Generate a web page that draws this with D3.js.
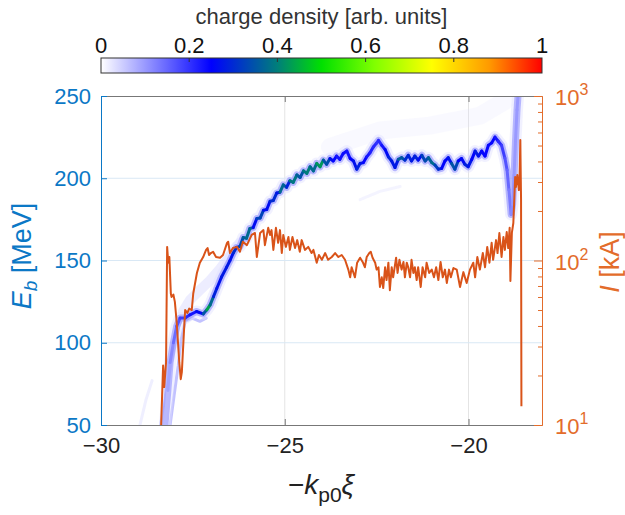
<!DOCTYPE html>
<html>
<head>
<meta charset="utf-8">
<script src="https://cdn.jsdelivr.net/npm/d3@7"></script>
<style>
  body { margin: 0; background: #fff; }
  svg { font-family: "Liberation Sans", Arial, Helvetica, sans-serif; }
</style>
</head>
<body>
<svg id="chart" width="625" height="515"></svg>
<script>
// ---- ticks ----
var xTicks = [-30, -25, -20];
var eTicks = [50, 100, 150, 200, 250];
var iTicks = [10, 100, 1000];
var iMinor = [20, 30, 40, 50, 60, 70, 80, 90, 200, 300, 400, 500, 600, 700, 800, 900];
var cbTicks = [0, 0.2, 0.4, 0.6, 0.8, 1];

// ---- current profile I [kA] vs -kp0*xi ----
var currXi = [-28.37, -28.31, -28.28, -28.23, -28.20, -28.17, -28.14, -28.10, -28.08, -28.03,
  -27.99, -27.94, -27.87, -27.83, -27.80, -27.74, -27.71, -27.65, -27.60, -27.53,
  -27.49, -27.39, -27.31, -27.22, -27.14, -27.10, -27.06, -27.01, -26.95, -26.87,
  -26.76, -26.68, -26.57, -26.54, -26.49, -26.41, -26.30, -26.22, -26.14, -26.03,
  -25.90, -25.81, -25.76, -25.67, -25.58, -25.54, -25.45, -25.40, -25.36, -25.31,
  -25.24, -25.18, -25.13, -25.08, -25.04, -24.97, -24.90, -24.86, -24.79, -24.72,
  -24.66, -24.59, -24.54, -24.45, -24.36, -24.27, -24.22, -24.13, -24.07, -23.99,
  -23.90, -23.82, -23.72, -23.63, -23.54, -23.45, -23.36, -23.27, -23.22, -23.18,
  -23.09, -23.03, -22.95, -22.88, -22.82, -22.77, -22.70, -22.66, -22.61, -22.54,
  -22.50, -22.45, -22.41, -22.36, -22.32, -22.27, -22.23, -22.18, -22.14, -22.09,
  -22.05, -21.97, -21.93, -21.88, -21.82, -21.77, -21.73, -21.68, -21.64, -21.59,
  -21.55, -21.50, -21.46, -21.41, -21.37, -21.30, -21.25, -21.18, -21.14, -21.07,
  -21.00, -20.94, -20.88, -20.82, -20.76, -20.70, -20.64, -20.59, -20.53, -20.48,
  -20.41, -20.32, -20.23, -20.14, -20.05, -19.96, -19.87, -19.82, -19.76, -19.69,
  -19.61, -19.55, -19.49, -19.43, -19.37, -19.33, -19.25, -19.21, -19.16, -19.10,
  -19.05, -19.01, -18.96, -18.92, -18.88, -18.86, -18.82, -18.78, -18.73, -18.71,
  -18.67, -18.63, -18.61, -18.59, -18.57, -18.56];
var currKA = [9, 23, 17, 24, 121, 97, 105, 63, 60, 62,
  56, 42, 24, 19, 21, 38, 50, 48, 51, 50,
  63, 84, 97, 105, 116, 119, 108, 111, 113, 105,
  104, 108, 128, 130, 111, 119, 121, 113, 130, 124,
  143, 147, 105, 147, 153, 124, 158, 143, 153, 116,
  158, 128, 153, 111, 143, 121, 139, 116, 139, 119,
  133, 113, 133, 116, 121, 111, 116, 97, 108, 101,
  111, 101, 105, 111, 105, 108, 101, 88, 79, 91,
  79, 97, 104, 98, 91, 105, 111, 113, 104, 97,
  88, 91, 69, 79, 68, 91, 76, 97, 66, 91,
  79, 104, 84, 101, 88, 98, 79, 97, 91, 79,
  101, 84, 91, 76, 91, 69, 91, 79, 97, 84,
  88, 79, 91, 76, 98, 79, 88, 73, 88, 79,
  90, 88, 69, 85, 73, 88, 97, 79, 105, 88,
  111, 91, 121, 97, 128, 101, 133, 111, 147, 105,
  139, 116, 149, 119, 158, 75, 147, 169, 322, 280,
  331, 268, 317, 540, 233, 13];

// ---- beam energy ridge E_b [MeV] and its charge density ----
var ridgeXi = [-28.26, -28.18, -28.12, -28.03, -27.94, -27.85, -27.71, -27.58, -27.40, -27.22,
  -27.12, -27.03, -26.94, -26.85, -26.72, -26.58, -26.49, -26.40, -26.31, -26.22,
  -26.13, -26.04, -25.95, -25.86, -25.76, -25.67, -25.58, -25.49, -25.40, -25.31,
  -25.22, -25.13, -25.04, -24.95, -24.86, -24.77, -24.67, -24.58, -24.49, -24.40,
  -24.31, -24.22, -24.13, -24.04, -23.95, -23.86, -23.77, -23.68, -23.59, -23.50,
  -23.41, -23.31, -23.22, -23.13, -23.04, -22.95, -22.86, -22.77, -22.68, -22.59,
  -22.50, -22.45, -22.36, -22.27, -22.18, -22.09, -22.00, -21.91, -21.82, -21.73,
  -21.64, -21.55, -21.46, -21.37, -21.27, -21.18, -21.09, -21.00, -20.91, -20.82,
  -20.73, -20.64, -20.55, -20.46, -20.37, -20.28, -20.19, -20.10, -20.01, -19.91,
  -19.82, -19.73, -19.64, -19.55, -19.46, -19.37, -19.28, -19.19, -19.10, -19.01,
  -18.95, -18.90, -18.84, -18.80, -18.76, -18.72, -18.68, -18.64];
var ridgeE = [50, 71, 88, 100, 110, 115, 115, 117, 119, 117.5,
  120, 123, 128, 133, 140, 146, 150, 154.6, 158, 158.5,
  164, 163.5, 169.5, 170, 175.5, 175.8, 180.5, 181, 186, 186.5,
  191, 191.5, 196, 194.5, 198.5, 197.5, 202, 200.5, 204.5, 203,
  207, 204.5, 209, 207, 211, 208.5, 212, 210.5, 213.5, 211.5,
  215, 216.5, 212, 210.5, 205.5, 209, 209.5, 213, 215.5, 219,
  221.4, 223, 220, 217.5, 213, 210.5, 206.5, 211.5, 212.5, 211,
  214, 210.5, 213.5, 211, 214, 210.5, 212.5, 209.5, 208, 205.5,
  206, 210.5, 212.5, 209, 205.5, 210.5, 212, 208.5, 207, 211.5,
  216.5, 213.5, 216.5, 213.5, 220, 221.5, 225, 222.5, 220, 212.3,
  205, 193, 178, 184, 202, 223, 241.5, 254];
var ridgeQ = [0.06, 0.08, 0.10, 0.13, 0.16, 0.18, 0.20, 0.22, 0.24, 0.28,
  0.42, 0.45, 0.30, 0.28, 0.26, 0.30, 0.26, 0.28, 0.32, 0.26,
  0.42, 0.30, 0.45, 0.28, 0.25, 0.40, 0.26, 0.28, 0.25, 0.35,
  0.25, 0.30, 0.45, 0.28, 0.30, 0.48, 0.30, 0.42, 0.28, 0.50,
  0.30, 0.45, 0.30, 0.55, 0.30, 0.40, 0.28, 0.25, 0.24, 0.22,
  0.25, 0.23, 0.24, 0.26, 0.28, 0.30, 0.25, 0.24, 0.22, 0.22,
  0.20, 0.20, 0.22, 0.24, 0.28, 0.30, 0.26, 0.30, 0.42, 0.28,
  0.32, 0.26, 0.30, 0.28, 0.25, 0.40, 0.28, 0.45, 0.30, 0.35,
  0.25, 0.26, 0.25, 0.30, 0.40, 0.26, 0.24, 0.28, 0.30, 0.25,
  0.26, 0.30, 0.24, 0.25, 0.24, 0.25, 0.24, 0.22, 0.20, 0.18,
  0.16, 0.14, 0.12, 0.11, 0.10, 0.10, 0.10, 0.10];

// faint secondary parts of the beam
var tailAXi = [-28.39, -28.26, -28.12, -27.99, -27.90, -27.80];
var tailAE = [50, 65, 83, 99, 108, 115];
var tailBXi = [-28.12, -28.01, -27.90, -27.82, -27.71, -27.52, -27.31, -27.14];
var tailBE = [50, 68, 86, 102, 113, 115, 113, 115];
var upperXi = [-27.77, -27.58, -27.31, -27.03, -26.76, -26.49, -26.22];
var upperE = [119, 126, 132, 138, 145, 153, 161];
var hazeXi = [-23.77, -22.41, -21.05, -19.69, -19.01, -18.80];
var hazeE = [219, 229, 232, 238, 247, 252];
var streakXi = [-22.95, -22.41, -21.86];
var streakE = [187, 192, 195];
var farLeftXi = [-28.94, -28.78, -28.61];
var farLeftE = [50, 65, 77];

// ---- colormap ----
var cmapStops = [0, 0.25, 0.4, 0.5, 0.62, 0.75, 0.88, 1];
var cmapColors = ["#ffffff", "#0000ff", "#007f7a", "#00e000", "#80ff00", "#ffff00", "#ff9a00", "#ff0000"];

var blueAx = "#0b78c6", orangeAx = "#e36c2b", orangeLine = "#d95319";
var L = 101, R = 542, T = 96, B = 425;

var svg = d3.select("#chart");
var x = d3.scaleLinear().domain([-30, -18]).range([L, R]);
var yE = d3.scaleLinear().domain([50, 250]).range([B, T]);
var yI = d3.scaleLog().domain([10, 1000]).range([B, T]);
var cmap = d3.scaleLinear().domain(cmapStops).range(cmapColors).clamp(true);
var cb = d3.scaleLinear().domain([0, 1]).range([L, R]);

// ---- colorbar ----
var defs = svg.append("defs");
var grad = defs.append("linearGradient").attr("id", "cbgrad");
cmapStops.forEach(function(s, i) {
  grad.append("stop").attr("offset", s * 100 + "%").attr("stop-color", cmapColors[i]);
});
svg.append("text").attr("x", (L + R) / 2).attr("y", 24).attr("text-anchor", "middle")
  .attr("font-size", 22).attr("fill", "#333").text("charge density [arb. units]");
svg.append("rect").attr("x", L).attr("y", 58).attr("width", R - L).attr("height", 15)
  .attr("fill", "url(#cbgrad)").attr("stroke", "#333").attr("stroke-width", 1);
svg.selectAll(".cbt").data(cbTicks.slice(1, -1)).enter().append("line")
  .attr("x1", cb).attr("x2", cb).attr("y1", 58).attr("y2", 62).attr("stroke", "#333");
svg.selectAll(".cbl").data(cbTicks).enter().append("text")
  .attr("x", cb).attr("y", 53).attr("text-anchor", "middle").attr("font-size", 22).attr("fill", "#111")
  .text(function(d) { return d3.format("~g")(d); });

// ---- grid ----
svg.selectAll(".gx").data(xTicks.slice(1)).enter().append("line")
  .attr("x1", x).attr("x2", x).attr("y1", T).attr("y2", B).attr("stroke", "#e4e4e4");
svg.selectAll(".gy").data(eTicks.slice(1, -1)).enter().append("line")
  .attr("x1", L).attr("x2", R).attr("y1", yE).attr("y2", yE).attr("stroke", "#d9e8f5");

// ---- data ----
defs.append("clipPath").attr("id", "plot").append("rect")
  .attr("x", L).attr("y", T).attr("width", R - L).attr("height", B - T);
var g = svg.append("g").attr("clip-path", "url(#plot)");

var lineE = d3.line().x(function(d) { return x(d[0]); }).y(function(d) { return yE(d[1]); });
function track(xs, es, q, w, op) {
  g.append("path").datum(d3.zip(xs, es)).attr("d", lineE).attr("fill", "none")
    .attr("stroke", cmap(q)).attr("stroke-width", w).attr("stroke-opacity", op)
    .attr("stroke-linecap", "round").attr("stroke-linejoin", "round");
}
track(farLeftXi, farLeftE, 0.04, 3, 0.4);
track(hazeXi, hazeE, 0.03, 18, 0.18);
track(streakXi, streakE, 0.03, 3, 0.35);
track(upperXi, upperE, 0.05, 10, 0.35);
track(tailAXi, tailAE, 0.08, 2.5, 0.6);
track(tailBXi, tailBE, 0.1, 3, 0.6);
track(ridgeXi, ridgeE, 0.03, 12, 0.45);
track(ridgeXi, ridgeE, 0.12, 7, 0.55);

var ridge = d3.zip(ridgeXi, ridgeE, ridgeQ);
g.selectAll(".seg").data(d3.pairs(ridge)).enter().append("line")
  .attr("x1", function(p) { return x(p[0][0]); }).attr("y1", function(p) { return yE(p[0][1]); })
  .attr("x2", function(p) { return x(p[1][0]); }).attr("y2", function(p) { return yE(p[1][1]); })
  .attr("stroke", function(p) { return cmap((p[0][2] + p[1][2]) / 2); })
  .attr("stroke-width", 3).attr("stroke-linecap", "round");

var lineI = d3.line().x(function(d) { return x(d[0]); }).y(function(d) { return yI(d[1]); });
g.append("path").datum(d3.zip(currXi, currKA)).attr("d", lineI).attr("fill", "none")
  .attr("stroke", orangeLine).attr("stroke-width", 2).attr("stroke-linejoin", "round");

// ---- axes ----
function styleAxis(sel, col, lineCol) {
  sel.attr("font-family", null).attr("font-size", 22).attr("color", col);
  sel.selectAll("path, line").attr("stroke", lineCol || col);
}
svg.append("g").attr("transform", "translate(0," + B + ")")
  .call(d3.axisBottom(x).tickValues(xTicks).tickSize(-6).tickSizeOuter(0).tickPadding(12))
  .call(styleAxis, "#222", "#777");
svg.append("g").attr("transform", "translate(0," + T + ")")
  .call(d3.axisTop(x).tickValues(xTicks).tickSize(-6).tickSizeOuter(0).tickFormat(""))
  .call(styleAxis, "#222", "#777");
svg.append("g").attr("transform", "translate(" + L + ",0)")
  .call(d3.axisLeft(yE).tickValues(eTicks).tickSize(-6).tickSizeOuter(0).tickPadding(10))
  .call(styleAxis, blueAx);
svg.append("g").attr("transform", "translate(" + R + ",0)")
  .call(d3.axisRight(yI).tickValues(iMinor).tickSize(-4).tickSizeOuter(0).tickFormat(""))
  .call(styleAxis, orangeAx);
svg.append("g").attr("transform", "translate(" + R + ",0)")
  .call(d3.axisRight(yI).tickValues(iTicks).tickSize(-8).tickSizeOuter(0).tickFormat(""))
  .call(styleAxis, orangeAx);

var rl = svg.selectAll(".rl").data(iTicks).enter().append("text")
  .attr("x", R + 13).attr("y", function(d) { return yI(d) + 9; })
  .attr("font-size", 22).attr("fill", orangeAx);
rl.append("tspan").text("10");
rl.append("tspan").attr("dy", -10).attr("font-size", 16).text(function(d) { return Math.round(Math.log10(d)); });

// ---- axis labels ----
var yl = svg.append("text").attr("transform", "translate(31,256) rotate(-90)")
  .attr("text-anchor", "middle").attr("font-size", 27).attr("fill", blueAx);
yl.append("tspan").attr("font-style", "italic").text("E");
yl.append("tspan").attr("font-style", "italic").attr("font-size", 19).attr("dy", 6).text("b");
yl.append("tspan").attr("dy", -6).text(" [MeV]");

var il = svg.append("text").attr("transform", "translate(619,262) rotate(-90)")
  .attr("text-anchor", "middle").attr("font-size", 27).attr("fill", orangeAx);
il.append("tspan").attr("font-style", "italic").text("I");
il.append("tspan").text(" [kA]");

var xl = svg.append("text").attr("x", 321).attr("y", 494).attr("text-anchor", "middle")
  .attr("font-size", 28).attr("fill", "#222");
xl.append("tspan").text("\u2212");
xl.append("tspan").attr("font-style", "italic").text("k");
xl.append("tspan").attr("font-size", 21).attr("dy", 8).text("p0");
xl.append("tspan").attr("font-style", "italic").attr("dy", -8).text("\u03BE");
</script>
</body>
</html>
